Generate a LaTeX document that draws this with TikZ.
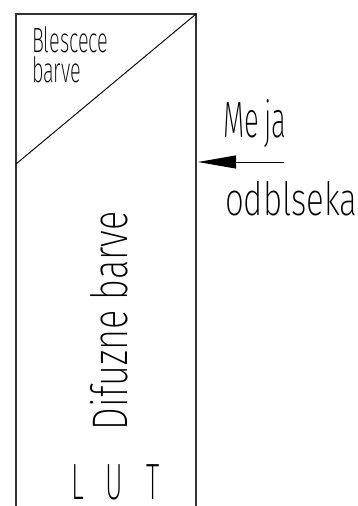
\documentclass[tikz,border=0pt]{standalone}
\usepackage{fontspec}
\newfontfamily\cad{Fira Sans ExtraLight}
\usetikzlibrary{arrows.meta}
\begin{document}
\begin{tikzpicture}[x=1pt,y=-1pt,
  boxline/.style={line width=1.6pt,draw=black!80},
  thinline/.style={line width=0.9pt,draw=black},
  lbl/.style={inner sep=0pt,outer sep=0pt,text=black}]
\useasboundingbox (0,0) rectangle (358,506);
% open box
\coordinate (bl) at (16,506);
\coordinate (tl) at (16,14);
\coordinate (tr) at (196,14);
\coordinate (br) at (196,506);
\coordinate (dl) at (16,164);
\draw[boxline] (bl) -- (tl) -- (tr) -- (br);
\draw[thinline] (dl) -- (tr);
% arrow
\coordinate (as) at (284,162);
\coordinate (ae) at (198,162);
\draw[thinline,-{Triangle[length=38pt,width=13pt]}] (as) -- (ae);
% texts
\node[lbl,anchor=base west,align=left,font={\cad\fontsize{35}{30}\selectfont}] (ble) at (32,82) {\scalebox{0.57}[1]{Blescece}\\\scalebox{0.57}[1]{barve}};
\node[lbl,anchor=base west] (meja) at (223,137) {\cad\fontsize{51}{51}\selectfont\scalebox{0.54}[1]{Me\hspace{10pt}ja}};
\node[lbl,anchor=base west] (odb) at (225,215) {\cad\fontsize{46}{46}\selectfont\scalebox{0.72}[1]{odblseka}};
\node[lbl,anchor=base west,rotate=90] (dif) at (127,430) {\cad\fontsize{50}{50}\selectfont\scalebox{0.72}[1]{Difuzne barve}};
\node[lbl,anchor=base west] (lut) at (71,499) {\cad\fontsize{51}{51}\selectfont\scalebox{0.53}[1]{L\hspace{41pt}U\hspace{44pt}T}};
\end{tikzpicture}
\end{document}
